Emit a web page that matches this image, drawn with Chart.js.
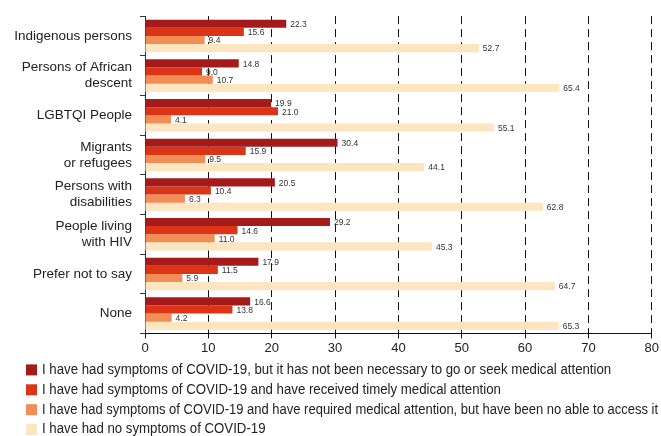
<!DOCTYPE html>
<html>
<head>
<meta charset="utf-8">
<script src="https://cdn.jsdelivr.net/npm/chart.js@4/dist/chart.umd.min.js"></script>
<style>
  body { margin: 0; background: #fff; }
</style>
</head>
<body>
<canvas id="myChart" width="661" height="436"></canvas>
<script>
var categories = [
    ['Indigenous persons'],
    ['Persons of African', 'descent'],
    ['LGBTQI People'],
    ['Migrants', 'or refugees'],
    ['Persons with', 'disabilities'],
    ['People living', 'with HIV'],
    ['Prefer not to say'],
    ['None']
];
var seriesNames = [
    'I have had symptoms of COVID-19, but it has not been necessary to go or seek medical attention',
    'I have had symptoms of COVID-19 and have received timely medical attention',
    'I have had symptoms of COVID-19 and have required medical attention, but have been no able to access it',
    'I have had no symptoms of COVID-19'
];
var noCare = [22.3, 14.8, 19.9, 30.4, 20.5, 29.2, 17.9, 16.6];
var timelyCare = [15.6, 9.0, 21.0, 15.9, 10.4, 14.6, 11.5, 13.8];
var noAccess = [9.4, 10.7, 4.1, 9.5, 6.3, 11.0, 5.9, 4.2];
var noSymptoms = [52.7, 65.4, 55.1, 44.1, 62.8, 45.3, 64.7, 65.3];
var xTicks = [0, 10, 20, 30, 40, 50, 60, 70, 80];

var colors = ['#a51b1b', '#db3416', '#f28d55', '#fde5c1'];
var seriesValues = [noCare, timelyCare, noAccess, noSymptoms];

// labels at the end of each bar
var barLabels = {
    id: 'barLabels',
    afterDatasetsDraw: function (chart) {
        var ctx = chart.ctx;
        ctx.save();
        ctx.font = '8.5px "Liberation Sans", Arial, sans-serif';
        ctx.fillStyle = '#333';
        ctx.textBaseline = 'middle';
        ctx.textAlign = 'left';
        chart.data.datasets.forEach(function (ds, i) {
            chart.getDatasetMeta(i).data.forEach(function (bar, j) {
                ctx.fillText(ds.data[j].toFixed(1), bar.x + 4, bar.y + 1);
            });
        });
        ctx.restore();
    }
};

// legend under the chart, one item per row, slightly condensed text
var narrowLegend = {
    id: 'narrowLegend',
    afterDraw: function (chart) {
        var ctx = chart.ctx;
        var top = chart.chartArea.bottom + 36;
        var sx = 0.945;
        ctx.save();
        ctx.font = '14px "Liberation Sans", Arial, sans-serif';
        ctx.textBaseline = 'middle';
        chart.data.datasets.forEach(function (ds, i) {
            var y = top + i * 19.9;
            ctx.fillStyle = ds.backgroundColor;
            ctx.fillRect(26, y - 5, 11, 11);
            ctx.save();
            ctx.translate(42, y);
            ctx.scale(sx, 1);
            ctx.fillStyle = '#222';
            ctx.fillText(ds.label, 0, 0.5, (chart.width - 3 - 42) / sx);
            ctx.restore();
        });
        ctx.restore();
    }
};

var ctx = document.getElementById('myChart').getContext('2d');
var myChart = new Chart(ctx, {
    type: 'bar',
    data: {
        labels: categories,
        datasets: seriesValues.map(function (vals, i) {
            return {
                label: seriesNames[i],
                data: vals,
                backgroundColor: colors[i],
                barPercentage: 1,
                categoryPercentage: 0.82
            };
        })
    },
    options: {
        indexAxis: 'y',
        responsive: false,
        animation: false,
        layout: { padding: { top: 14, left: 14, right: 0, bottom: 78 } },
        plugins: {
            legend: { display: false },
            tooltip: { enabled: false }
        },
        scales: {
            x: {
                min: 0,
                max: 80,
                afterBuildTicks: function (axis) {
                    axis.ticks = xTicks.map(function (v) { return { value: v }; });
                },
                ticks: {
                    color: '#222',
                    padding: 2,
                    font: { family: '"Liberation Sans", Arial, sans-serif', size: 13 }
                },
                grid: {
                    color: '#111',
                    tickBorderDash: [],
                    tickLength: 5,
                    tickColor: '#111'
                },
                border: { display: true, color: '#111', width: 1, dash: [8, 5] }
            },
            y: {
                afterFit: function (axis) { axis.width = 131; },
                ticks: {
                    color: '#222',
                    padding: 8,
                    font: { family: '"Liberation Sans", Arial, sans-serif', size: 13.5, lineHeight: 1.2 }
                },
                grid: {
                    drawOnChartArea: false,
                    tickLength: 5,
                    tickColor: '#333'
                },
                border: { display: true, color: '#333', width: 1 }
            }
        }
    },
    plugins: [barLabels, narrowLegend]
});
</script>
</body>
</html>
